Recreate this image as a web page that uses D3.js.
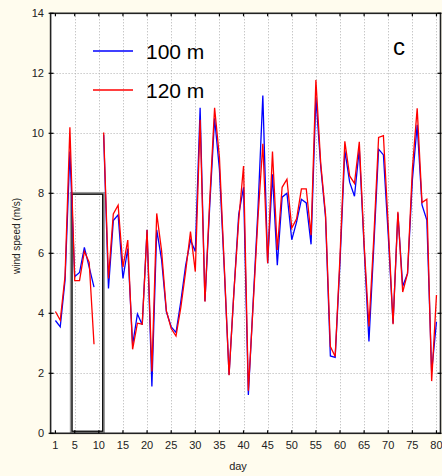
<!DOCTYPE html>
<html>
<head>
<meta charset="utf-8">
<script src="https://cdn.jsdelivr.net/npm/d3@7"></script>
<style>
  body { margin: 0; background: #fffcee; }
  svg { display: block; font-family: "Liberation Sans", Arial, sans-serif; }
</style>
</head>
<body>
<div id="chart"></div>
<script>
// days 1..80, day 10 has no data
var days = d3.range(1, 81);
var speed100 = [3.76, 3.55, 5.1, 9.39, 5.22, 5.36, 6.2, 5.54, 4.87, null,
  9.95, 4.83, 7.09, 7.28, 5.16, 6.16, 2.95, 3.98, 3.62, 6.78,
  1.56, 6.78, 5.8, 4.05, 3.55, 3.36, 4.4, 5.6, 6.44, 6.06,
  10.85, 4.4, 7.6, 10.5, 8.8, 5.5, 1.95, 4.7, 7.3, 8.2,
  1.28, 4.4, 7.5, 11.26, 5.67, 8.63, 5.6, 7.87, 8.0, 6.45,
  7.05, 7.8, 7.68, 6.3, 11.2, 8.9, 7.2, 2.58, 2.53, 5.7,
  9.42, 8.37, 7.9, 9.48, 6.2, 3.06, 6.2, 9.47, 9.28, 6.6,
  3.66, 7.33, 4.9, 5.33, 8.44, 10.28, 7.61, 7.11, 2.05, 3.72];
var speed120 = [4.06, 3.77, 5.25, 10.2, 5.09, 5.09, 6.06, 5.7, 2.97, null,
  10.03, 5.16, 7.31, 7.6, 5.54, 6.44, 2.8, 3.67, 3.64, 6.78,
  2.06, 7.33, 6.1, 4.09, 3.49, 3.24, 4.2, 5.4, 6.72, 5.39,
  10.45, 4.39, 7.8, 10.85, 9.2, 5.6, 1.94, 4.7, 7.1, 8.91,
  1.42, 4.3, 7.2, 9.65, 5.67, 9.39, 6.11, 8.2, 8.47, 6.84,
  7.15, 8.15, 8.15, 6.6, 11.78, 9.0, 7.3, 2.89, 2.56, 5.9,
  9.73, 8.58, 8.33, 9.72, 6.3, 3.56, 6.5, 9.86, 9.92, 6.9,
  3.64, 7.38, 4.71, 5.33, 8.8, 10.83, 7.69, 7.8, 1.74, 4.61];
var xTicks = [1, 5, 10, 15, 20, 25, 30, 35, 40, 45, 50, 55, 60, 65, 70, 75, 80];
var yTicks = [0, 2, 4, 6, 8, 10, 12, 14];
var seriesNames = ["100 m", "120 m"];
var seriesColors = ["#0000ff", "#ff0000"];
// highlighted box: days and wind speed
var boxX = [4.45, 10.8];
var boxY = [0.07, 7.97];

function draw() {
  var width = 442, height = 476;
  var svg = d3.select("#chart").append("svg")
    .attr("width", width).attr("height", height);

  var x = d3.scaleLinear().domain([0, 81]).range([50.6, 441.3]);
  var y = d3.scaleLinear().domain([0, 14]).range([433.3, 13.3]);
  var pLeft = x(0), pRight = 440.5, pTop = y(14), pBottom = y(0);

  // plot background
  svg.append("rect")
    .attr("x", pLeft).attr("y", pTop)
    .attr("width", pRight - pLeft).attr("height", pBottom - pTop)
    .attr("fill", "#fff");

  // grid
  var grid = svg.append("g")
    .attr("stroke", "#b0b0b0").attr("stroke-dasharray", "1,2").attr("stroke-width", 1);
  grid.selectAll(".gx").data(xTicks.filter(function(d) { return d % 5 == 0; }))
    .enter().append("line")
    .attr("x1", function(d) { return Math.round(x(d)) + 0.5; })
    .attr("x2", function(d) { return Math.round(x(d)) + 0.5; })
    .attr("y1", pTop).attr("y2", pBottom);
  grid.selectAll(".gy").data(yTicks.filter(function(d) { return d > 0 && d < 14; }))
    .enter().append("line")
    .attr("y1", function(d) { return Math.round(y(d)) + 0.5; })
    .attr("y2", function(d) { return Math.round(y(d)) + 0.5; })
    .attr("x1", pLeft).attr("x2", pRight);

  // box
  svg.append("rect")
    .attr("x", x(boxX[0]) - 1).attr("y", y(boxY[1]) - 1)
    .attr("width", x(boxX[1]) - x(boxX[0]) + 2).attr("height", y(boxY[0]) - y(boxY[1]) + 2)
    .attr("fill", "none").attr("stroke", "#999").attr("stroke-width", 2.5);
  svg.append("rect")
    .attr("x", x(boxX[0])).attr("y", y(boxY[1]))
    .attr("width", x(boxX[1]) - x(boxX[0])).attr("height", y(boxY[0]) - y(boxY[1]))
    .attr("fill", "none").attr("stroke", "#000").attr("stroke-width", 1.2);

  // lines
  var line = d3.line()
    .defined(function(d) { return d[1] != null; })
    .x(function(d) { return x(d[0]); })
    .y(function(d) { return y(d[1]); });

  [speed100, speed120].forEach(function(vals, i) {
    svg.append("path")
      .datum(days.map(function(d, j) { return [d, vals[j]]; }))
      .attr("d", line)
      .attr("fill", "none")
      .attr("stroke", seriesColors[i])
      .attr("stroke-width", 1.3);
  });

  // frame
  svg.append("rect")
    .attr("x", pLeft).attr("y", pTop)
    .attr("width", pRight - pLeft).attr("height", pBottom - pTop)
    .attr("fill", "none").attr("stroke", "#222").attr("stroke-width", 1.6);

  // ticks
  var ticks = svg.append("g").attr("stroke", "#000").attr("stroke-width", 1.2);
  xTicks.forEach(function(d) {
    ticks.append("line").attr("x1", x(d)).attr("x2", x(d)).attr("y1", pBottom).attr("y2", pBottom - 3);
    ticks.append("line").attr("x1", x(d)).attr("x2", x(d)).attr("y1", pTop).attr("y2", pTop + 3);
  });
  yTicks.forEach(function(d) {
    ticks.append("line").attr("y1", y(d)).attr("y2", y(d)).attr("x1", pLeft - 2).attr("x2", pLeft + 3);
    ticks.append("line").attr("y1", y(d)).attr("y2", y(d)).attr("x1", pRight - 3).attr("x2", pRight + 1);
  });

  // tick labels
  svg.append("g").selectAll("text").data(xTicks).enter().append("text")
    .attr("x", function(d) { return x(d); })
    .attr("y", 449)
    .attr("text-anchor", "middle")
    .attr("font-size", 11)
    .attr("fill", "#222")
    .text(function(d) { return d; });
  svg.append("g").selectAll("text").data(yTicks).enter().append("text")
    .attr("x", 44)
    .attr("y", function(d) { return y(d); })
    .attr("dy", "0.35em")
    .attr("text-anchor", "end")
    .attr("font-size", 11)
    .attr("fill", "#222")
    .text(function(d) { return d; });

  // axis titles
  svg.append("text")
    .attr("x", 238).attr("y", 470)
    .attr("text-anchor", "middle").attr("font-size", 11).attr("fill", "#222")
    .text("day");
  svg.append("text")
    .attr("transform", "translate(20,236)rotate(-90)")
    .attr("text-anchor", "middle").attr("font-size", 10).attr("fill", "#222")
    .text("wind speed (m/s)");

  // legend
  seriesNames.forEach(function(name, i) {
    var ly = 51 + i * 39;
    svg.append("line")
      .attr("x1", 93).attr("x2", 133).attr("y1", ly).attr("y2", ly)
      .attr("stroke", seriesColors[i]).attr("stroke-width", 1.5);
    svg.append("text")
      .attr("x", 146).attr("y", ly + 8)
      .attr("font-size", 21).attr("fill", "#000")
      .text(name);
  });
  svg.append("text")
    .attr("x", 393).attr("y", 55)
    .attr("font-size", 24).attr("fill", "#000")
    .text("c");
}

draw();
</script>
</body>
</html>
